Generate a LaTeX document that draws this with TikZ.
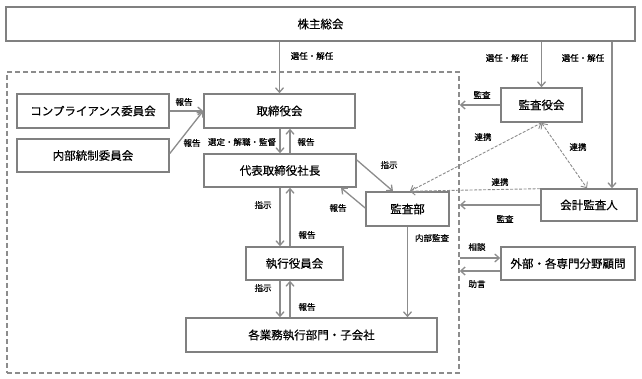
\documentclass[tikz,border=0pt]{standalone}
\usepackage{fontspec}
\newfontfamily\jp[FakeBold=0.4]{Noto Sans CJK JP}
\newfontfamily\jpl[FakeBold=0.6]{Noto Sans CJK JP}
\usetikzlibrary{arrows.meta,calc}
\definecolor{bx}{HTML}{808080}
\definecolor{ln}{HTML}{8C8C8C}
\begin{document}
\begin{tikzpicture}[x=1pt,y=-1pt,
  box/.style={draw=bx,line width=1.6pt,fill=white,inner sep=0pt,font=\jp\fontsize{11.5pt}{13pt}\selectfont,text=black},
  lbl/.style={inner sep=0pt,font=\jpl\fontsize{8.5pt}{10pt}\selectfont,text=black},
  frame/.style={draw=ln,line width=1.4pt,dash pattern=on 5pt off 3pt,inner sep=0pt},
  arr/.style={draw=ln,line width=1.3pt,-{Straight Barb[length=4.5pt,width=8pt]}},
  darr/.style={draw=ln,line width=0.9pt,dash pattern=on 3pt off 1.5pt,{Straight Barb[length=4.5pt,width=8pt]}-{Straight Barb[length=4.5pt,width=8pt]}},
  darrone/.style={draw=ln,line width=0.9pt,dash pattern=on 3pt off 1.5pt,-{Straight Barb[length=4.5pt,width=8pt]}}
]
\fill[white] (0,0) rectangle (642,379);
\useasboundingbox (0,0) rectangle (642,379);

% frame
\node[frame,minimum width=452pt,minimum height=301pt] (fr) at (233,222.5) {};

% boxes
\node[box,minimum width=629pt,minimum height=34pt] (sh) at (320.5,24) {株主総会};
\node[box,minimum width=152pt,minimum height=34pt] (cp) at (93,111) {コンプライアンス委員会};
\node[box,minimum width=152pt,minimum height=33pt] (nb) at (93,155.5) {内部統制委員会};
\node[box,minimum width=151pt,minimum height=34pt] (tr) at (279.5,111) {取締役会};
\node[box,minimum width=152pt,minimum height=33pt] (ceo) at (280,170.5) {代表取締役社長};
\node[box,minimum width=83pt,minimum height=34pt] (kb) at (407.5,209) {監査部};
\node[box,minimum width=97pt,minimum height=33pt] (ex) at (294.5,263.5) {執行役員会};
\node[box,minimum width=251pt,minimum height=34pt] (gy) at (311.5,335) {各業務執行部門・子会社};
\node[box,minimum width=81pt,minimum height=34pt] (ky) at (541.5,105) {監査役会};
\node[box,minimum width=96pt,minimum height=32pt] (ka) at (589,205) {会計監査人};
\node[box,minimum width=134pt,minimum height=33pt] (gb) at (568,263.5) {外部・各専門分野顧問};

% helper coordinates
\coordinate (dn) at (280,0);
\coordinate (up) at (290,0);
\coordinate (kx) at (612,0);
\coordinate (c1) at ([yshift=5.5pt]gb.west);
\coordinate (c2) at ([yshift=-7.5pt]gb.west);

% connectors
\draw[arr] (sh.south -| tr.north) -- (tr.north);
\draw[arr] (sh.south -| ky.north) -- (ky.north);
\draw[arr] (sh.south -| kx) -- (ka.north -| kx);

\draw[arr] (cp.east) -- (tr.west);
\draw[arr] ([yshift=2pt]nb.east) -- (tr.west);

\draw[arr] (tr.south -| dn) -- (ceo.north -| dn);
\draw[arr] (ceo.north -| up) -- (tr.south -| up);
\draw[arr] (ceo.south -| dn) -- (ex.north -| dn);
\draw[arr] (ex.north -| up) -- (ceo.south -| up);
\draw[arr] (ex.south -| dn) -- (gy.north -| dn);
\draw[arr] (gy.north -| up) -- (ex.south -| up);

\draw[arr] ([yshift=10.5pt]ceo.east) -- ([xshift=-14.5pt]kb.north);
\draw[arr] ([yshift=1pt]kb.west) -- ([xshift=61pt]ceo.south);
\draw[arr] (kb.south) -- (kb.south |- gy.north);

\draw[arr] (ky.west) -- (ky.west -| fr.east);
\draw[arr] (ka.west) -- (ka.west -| fr.east);
\draw[arr] (c1 -| fr.east) -- (c1);
\draw[arr] (c2) -- (c2 -| fr.east);

\draw[darr] ([xshift=2.5pt]kb.north) -- (ky.south);
\draw[darr] (ky.south) -- ([xshift=-2pt]ka.north);
\draw[darrone] ([yshift=-0.5pt]ka.north west) -- ([xshift=2.5pt]kb.north);

% labels
\node[lbl] (l1) at (312,56) {選任・解任};
\node[lbl] (l2) at (507,58) {選任・解任};
\node[lbl] (l3) at (583,58) {選任・解任};
\node[lbl] (l4) at (184,102) {報告};
\node[lbl] (l5) at (192,143) {報告};
\node[lbl] (l6) at (242,142) {選定・解職・監督};
\node[lbl] (l7) at (306,142) {報告};
\node[lbl] (l8) at (389,165) {指示};
\node[lbl] (l9) at (338,208) {報告};
\node[lbl] (l10) at (263,205) {指示};
\node[lbl] (l11) at (307,235) {報告};
\node[lbl] (l12) at (263,288) {指示};
\node[lbl] (l13) at (307,307) {報告};
\node[lbl] (l14) at (432,238) {内部監査};
\node[lbl] (l15) at (482,95) {監査};
\node[lbl] (l16) at (483,137) {連携};
\node[lbl] (l17) at (578,147) {連携};
\node[lbl] (l18) at (500,182) {連携};
\node[lbl] (l19) at (505,219) {監査};
\node[lbl] (l20) at (477,247) {相談};
\node[lbl] (l21) at (477,284) {助言};
\end{tikzpicture}
\end{document}
